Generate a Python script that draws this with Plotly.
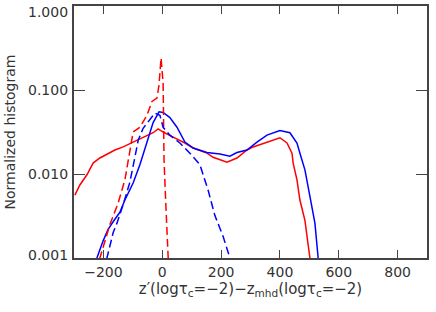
import math
import plotly.graph_objects as go

# Red solid
red_solid_x = [-297, -280, -256, -235, -212, -178, -161, -133, -99, -65, -31, -14, 3, 37, 77, 105, 152, 173, 220, 254, 288, 309, 356, 400, 424, 441, 445, 458, 468, 485, 502, 510]
red_solid_y = [0.0056, 0.0074, 0.0098, 0.0135, 0.0155, 0.0177, 0.0193, 0.021, 0.024, 0.0275, 0.031, 0.0345, 0.0316, 0.0275, 0.0234, 0.0204, 0.0177, 0.0158, 0.0138, 0.0155, 0.0193, 0.021, 0.024, 0.027, 0.0234, 0.0177, 0.0135, 0.0085, 0.0049, 0.0028, 0.001, 0.0006]

# Blue solid
blue_solid_x = [-230, -222, -201, -184, -167, -154, -144, -127, -99, -76, -52, -31, -11, 3, 26, 50, 77, 105, 152, 196, 230, 254, 288, 322, 356, 400, 434, 458, 468, 485, 502, 519, 530, 536]
blue_solid_y = [0.0007, 0.001, 0.0016, 0.0022, 0.0027, 0.0031, 0.0035, 0.0049, 0.0078, 0.0129, 0.0234, 0.041, 0.055, 0.054, 0.047, 0.036, 0.024, 0.0204, 0.018, 0.0173, 0.0163, 0.018, 0.0193, 0.024, 0.029, 0.033, 0.031, 0.0234, 0.0177, 0.0112, 0.0054, 0.0026, 0.001, 0.0006]

# Red dashed
red_dash_x = [-220, -212, -178, -150, -127, -110, -99, -76, -52, -35, -18, -11, -4, 3, 6, 13, 20, 23]
red_dash_y = [0.0007, 0.001, 0.0025, 0.0045, 0.0085, 0.0177, 0.0316, 0.036, 0.050, 0.073, 0.080, 0.115, 0.24, 0.12, 0.0148, 0.0037, 0.001, 0.0006]

# Blue dashed
blue_dash_x = [-195, -188, -167, -154, -133, -110, -93, -82, -65, -42, -25, -8, 3, 26, 60, 94, 128, 156, 179, 207, 230, 238]
blue_dash_y = [0.0007, 0.001, 0.0020, 0.0026, 0.0043, 0.0080, 0.0158, 0.025, 0.035, 0.044, 0.053, 0.050, 0.036, 0.029, 0.0234, 0.0177, 0.0129, 0.0064, 0.0032, 0.0018, 0.001, 0.0007]

x_ticks = [-200, 0, 200, 400, 600, 800]
y_ticks = [0.001, 0.01, 0.1, 1.0]
y_tick_labels = ["0.001", "0.010", "0.100", "1.000"]

FONT = "DejaVu Sans"
TXT = "#333333"
RED = "#ff0000"
BLUE = "#0000ff"

fig = go.Figure()
fig.add_trace(go.Scatter(x=red_solid_x, y=red_solid_y, mode="lines",
                         line=dict(color=RED, width=1.5)))
fig.add_trace(go.Scatter(x=blue_solid_x, y=blue_solid_y, mode="lines",
                         line=dict(color=BLUE, width=1.5)))
fig.add_trace(go.Scatter(x=red_dash_x, y=red_dash_y, mode="lines",
                         line=dict(color=RED, width=1.5, dash="8px,4px")))
fig.add_trace(go.Scatter(x=blue_dash_x, y=blue_dash_y, mode="lines",
                         line=dict(color=BLUE, width=1.5, dash="8px,4px")))

axis_common = dict(showgrid=False, zeroline=False, showline=True, mirror="ticks",
                   linecolor="#444", linewidth=1.5, ticks="inside", tickcolor="#444",
                   tickwidth=1.2, automargin=False,
                   tickfont=dict(family=FONT, size=14, color=TXT))

fig.update_xaxes(range=[-300, 900], tickvals=x_ticks, ticklen=8,
                 title=dict(text="z′(logτ<sub>c</sub>=−2)−z<sub>mhd</sub>(logτ<sub>c</sub>=−2)",
                            font=dict(family=FONT, size=15, color=TXT), standoff=2),
                 **axis_common)
fig.update_yaxes(type="log", range=[-3, 0], tickvals=y_ticks, showticklabels=False,
                 ticklen=11, **axis_common)

# y tick labels drawn as annotations so the end labels stay inside the page
# (annotation y on a log axis is given in log10 units)
label_shift = {0.001: 3, 0.01: 0, 0.1: 0, 1.0: -6}
for v, t in zip(y_ticks, y_tick_labels):
    fig.add_annotation(x=0, xref="paper", y=math.log10(v), yref="y", yanchor="middle",
                       text=t, showarrow=False, xanchor="right", xshift=-4,
                       yshift=label_shift[v], font=dict(family=FONT, size=14, color=TXT))

fig.add_annotation(x=-0.18, xref="paper", y=0.5, yref="paper", text="Normalized histogram",
                   textangle=-90, showarrow=False, xanchor="center", yanchor="middle",
                   font=dict(family=FONT, size=14, color=TXT))

fig.update_layout(width=436, height=312, showlegend=False,
                  margin=dict(l=74, r=9, t=6, b=54),
                  plot_bgcolor="white", paper_bgcolor="white")

fig.write_html("out.html", config={"displayModeBar": False},
               post_script="document.body.style.margin='0';")
